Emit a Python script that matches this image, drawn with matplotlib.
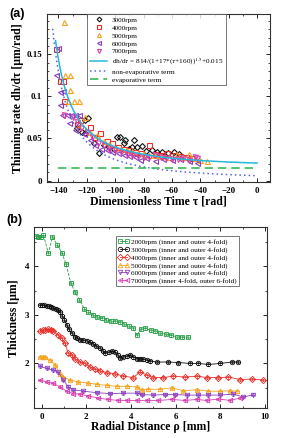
import numpy as np
import matplotlib
matplotlib.use('Agg')
from matplotlib import pyplot as plt
from matplotlib.lines import Line2D
from matplotlib.ticker import MultipleLocator, FuncFormatter

plt.rcParams['font.family'] = ['Liberation Serif', 'DejaVu Serif']
plt.rcParams['mathtext.fontset'] = 'stix'

# ---------------- panel (a) data: thinning rate vs dimensionless time
tau_3000 = [-121, -119, -126.8, -123.3, -121, -115, -111.6, -108, -104, -101, -98.7, -96.4, -94,
            -92.9, -90, -88.2, -87, -84.6, -81.1, -78, -74.1, -70.6, -67, -63, -58.8, -55]
rate_3000 = [0.072, 0.074, 0.062, 0.058, 0.056, 0.045, 0.033, 0.042, 0.040, 0.037, 0.052, 0.052, 0.045,
             0.048, 0.038, 0.040, 0.048, 0.040, 0.041, 0.035, 0.0365, 0.034, 0.034, 0.033, 0.034, 0.031]

tau_4000 = [-141.4, -138.6, -137, -136.3, -126.8, -124.5, -117.5, -115, -110.5, -106, -102, -98, -94,
            -90, -86, -82, -76.5, -72, -68, -63.5, -58, -54, -50, -46]
rate_4000 = [0.156, 0.118, 0.118, 0.094, 0.067, 0.072, 0.064, 0.052, 0.056, 0.047, 0.045, 0.040, 0.038,
             0.036, 0.034, 0.033, 0.0425, 0.031, 0.030, 0.0326, 0.030, 0.029, 0.028, 0.027]

tau_5000 = [-136.2, -135, -131.5, -131.5, -133.2, -129.2, -125.2, -121, -125.7, -118, -112.8, -108, -104,
            -100, -96, -92, -88, -84, -80, -76, -72, -68, -62, -56.5, -52, -48.3, -44, -40, -35.4]
rate_5000 = [0.188, 0.126, 0.126, 0.108, 0.095, 0.095, 0.095, 0.076, 0.064, 0.058, 0.054, 0.047, 0.043,
             0.039, 0.037, 0.036, 0.035, 0.033, 0.032, 0.030, 0.030, 0.029, 0.028, 0.031, 0.028, 0.031,
             0.027, 0.025, 0.023]

tau_6000 = [-140.2, -141.4, -138.6, -136.7, -138.6, -137.4, -134, -131, -128, -125.7, -132.7, -128, -122,
            -118, -114, -110, -106, -102, -98, -94, -90, -86, -82.3, -78, -71.8, -66, -60, -54, -48, -42.4]
rate_6000 = [0.157, 0.125, 0.105, 0.106, 0.090, 0.078, 0.078, 0.078, 0.078, 0.078, 0.068, 0.060, 0.055,
             0.048, 0.042, 0.038, 0.036, 0.034, 0.033, 0.030, 0.029, 0.028, 0.025, 0.027, 0.023, 0.026,
             0.025, 0.026, 0.023, 0.021]

tau_7000 = [-136, -130, -127, -124, -120, -116, -112, -108, -104, -100, -96, -92, -88, -84, -80, -76,
            -72, -68, -64, -60, -56, -52, -48, -44, -42.4]
rate_7000 = [0.078, 0.076, 0.070, 0.062, 0.058, 0.052, 0.045, 0.042, 0.038, 0.036, 0.034, 0.031, 0.030,
             0.029, 0.028, 0.028, 0.030, 0.028, 0.027, 0.026, 0.026, 0.027, 0.025, 0.028, 0.027]

# fit constants as printed in the legend: dh/dt = A/(1+B*(tau+C))^P + E
fit_A, fit_B, fit_C, fit_P, fit_E = 814.0, 17.0, 160.0, 1.5, 0.015
fit_tau = np.linspace(-142, 0, 200)
nonevap_tau = np.linspace(-144, 0, 200)
evap_tau = [-140, 0]

# ---------------- panel (b) data: thickness vs radial distance
rho_2000 = [-0.26, -0.17, -0.05, 0.07, 0.3, 0.48, 0.7, 0.9, 1.09, 1.3, 1.49, 1.69, 1.9, 2.09, 2.3, 2.5,
            2.7, 2.9, 3.1, 3.3, 3.5, 3.7, 3.9, 4.1, 4.26, 4.45, 4.65, 4.9, 5.1, 5.3, 5.55, 5.8, 6.05,
            6.3, 6.55]
h_2000 = [4.62, 4.6, 4.6, 4.65, 4.27, 4.6, 4.44, 4.28, 4.04, 3.66, 3.47, 3.31, 3.13, 3.06, 3.0, 2.96,
          2.93, 2.9, 2.88, 2.87, 2.85, 2.82, 2.78, 2.72, 2.58, 2.7, 2.72, 2.68, 2.66, 2.63, 2.61, 2.58,
          2.55, 2.54, 2.55]

rho_3000 = [-0.08, 0.02, 0.12, 0.22, 0.32, 0.42, 0.52, 0.62, 0.72, 0.82, 0.92, 1.02, 1.12, 1.22, 1.35,
            1.5, 1.6, 1.72, 1.85, 2.02, 2.15, 2.31, 2.45, 2.61, 2.75, 2.84, 3.0, 3.15, 3.29, 3.4, 3.51,
            3.65, 3.81, 3.96, 4.1, 4.26, 4.41, 4.56, 4.7, 4.86, 5.16, 5.68, 6.13, 6.65, 7.02, 7.47, 8.0,
            8.52, 8.82]
h_3000 = [3.2, 3.2, 3.2, 3.19, 3.18, 3.17, 3.15, 3.13, 3.1, 3.05, 2.98, 2.9, 2.8, 2.7, 2.62, 2.55,
          2.52, 2.49, 2.48, 2.47, 2.45, 2.41, 2.36, 2.31, 2.26, 2.21, 2.23, 2.25, 2.24, 2.18, 2.12,
          2.14, 2.15, 2.17, 2.13, 2.1, 2.1, 2.09, 2.07, 2.05, 2.03, 2.03, 2.02, 2.0, 2.0, 1.98, 2.0,
          2.03, 2.03]

rho_4000 = [-0.08, 0.05, 0.15, 0.3, 0.42, 0.52, 0.74, 0.9, 1.04, 1.19, 1.34, 1.49, 1.72, 1.94, 2.17,
            2.39, 2.61, 2.91, 3.29, 3.66, 4.11, 4.41, 4.71, 5.0, 5.45, 5.9, 6.43, 6.95, 7.4, 7.92, 8.37,
            8.9, 9.42, 9.94]
h_4000 = [2.67, 2.68, 2.69, 2.7, 2.69, 2.67, 2.58, 2.52, 2.42, 2.21, 2.17, 2.1, 2.03, 2.0, 1.93,
          1.88, 1.85, 1.81, 1.79, 1.74, 1.71, 1.83, 1.76, 1.71, 1.71, 1.74, 1.72, 1.74, 1.71, 1.71,
          1.72, 1.67, 1.68, 1.66]

rho_5000 = [-0.08, 0.05, 0.15, 0.37, 0.6, 0.82, 0.97, 1.27, 1.64, 2.09, 2.47, 2.91, 3.36, 3.81, 4.26,
            4.48, 4.78, 5.3, 5.83, 6.35, 6.95, 7.47, 8.0, 8.44, 8.74]
h_5000 = [2.14, 2.14, 2.13, 2.07, 1.97, 1.79, 1.72, 1.66, 1.62, 1.6, 1.57, 1.55, 1.53, 1.53, 1.52,
          1.46, 1.47, 1.47, 1.5, 1.44, 1.46, 1.43, 1.43, 1.44, 1.43]

rho_6000 = [-0.08, 0.22, 0.52, 0.74, 0.97, 1.19, 1.42, 1.87, 2.47, 3.06, 3.66, 4.26, 4.48, 5.0, 5.53,
            5.98, 6.5, 7.02, 7.47, 8.0, 8.59, 9.04, 9.49]
h_6000 = [1.94, 1.9, 1.86, 1.82, 1.66, 1.52, 1.46, 1.43, 1.4, 1.38, 1.39, 1.39, 1.36, 1.35, 1.36,
          1.36, 1.35, 1.35, 1.35, 1.35, 1.37, 1.31, 1.36]

rho_7000 = [-0.08, 0.22, 0.52, 0.82, 1.12, 1.42, 1.72, 2.09, 2.54, 2.99, 3.43, 3.81, 4.26, 4.7, 5.23,
            5.83, 6.43, 6.95, 7.4, 7.92, 8.44, 8.89]
h_7000 = [1.66, 1.62, 1.59, 1.52, 1.43, 1.38, 1.37, 1.33, 1.29, 1.26, 1.24, 1.24, 1.24, 1.24, 1.24,
          1.26, 1.24, 1.26, 1.24, 1.27, 1.24, 1.29]

black = '#111111'
red = '#e8302a'
orange = '#f5a21e'
purple = '#8a3fc0'
magenta = '#d83fb0'
green = '#2aa048'
cyan = '#25b8d8'
dotblue = '#5a62d8'
evapgreen = '#39b95a'

fig = plt.figure(figsize=(2.85, 4.38), dpi=100)

# ================= (a)
ax = fig.add_axes([0.165, 0.584, 0.782, 0.384])
mk = dict(mfc='none', ms=3.6, mew=0.8, ls='none')
ax.plot(tau_3000, rate_3000, marker='D', color=black, label='3000rpm', ms=3.0, mfc='none', mew=0.8, ls='none')
ax.plot(tau_4000, rate_4000, marker='s', color=red, label='4000rpm', **mk)
ax.plot(tau_5000, rate_5000, marker='^', color=orange, label='5000rpm', **mk)
ax.plot(tau_6000, rate_6000, marker='<', color=purple, label='6000rpm', **mk)
ax.plot(tau_7000, rate_7000, marker='v', color=magenta, label='7000rpm', **mk)

fit_tau = np.asarray(fit_tau)
fit_line = fit_A / (1 + fit_B * (fit_tau + fit_C)) ** fit_P + fit_E
nonevap_tau = np.asarray(nonevap_tau)
nonevap_line = fit_A / (1 + fit_B * (nonevap_tau + fit_C)) ** fit_P
ax.plot(fit_tau, fit_line, color=cyan, lw=1.1,
        label=r'dh/d$\tau$ = 814/(1+17*($\tau$+160))$^{1.5}$+0.015')
ax.plot(nonevap_tau, nonevap_line, color=dotblue, lw=1.1, ls=(0, (1, 2)), label='non-evaporative term')
ax.plot(evap_tau, [fit_E, fit_E], color=evapgreen, lw=1.2, ls=(0, (5, 3)), label='evaporative term')

ax.set_xlim(-148, 9)
ax.set_ylim(-0.002, 0.198)
ax.xaxis.set_major_locator(MultipleLocator(20))
ax.xaxis.set_minor_locator(MultipleLocator(10))
ax.yaxis.set_major_locator(MultipleLocator(0.05))
ax.yaxis.set_minor_locator(MultipleLocator(0.01))
ax.yaxis.set_major_formatter(FuncFormatter(lambda v, p: '%g' % round(v, 3)))
ax.set_xlabel('Dimensionless Time τ [rad]', fontsize=8.5, fontweight='bold', labelpad=0)
ax.set_ylabel('Thinning rate dh/dτ [μm/rad]', fontsize=8.5, fontweight='bold', labelpad=2)
leg = ax.legend(loc='upper left', bbox_to_anchor=(0.18, 1.0), fontsize=5.2, frameon=True, fancybox=False,
                edgecolor='#555555', borderpad=0.4, labelspacing=0.25, handlelength=2.4,
                handletextpad=0.6, borderaxespad=0, numpoints=1, markerscale=0.8)
leg.get_frame().set_linewidth(0.7)
ax.text(-0.17, 1.0, '(a)', transform=ax.transAxes, fontsize=9, fontweight='bold',
        family='Liberation Sans', ha='left', va='center')

# ================= (b)
bx = fig.add_axes([0.119, 0.068, 0.818, 0.413])
eb = dict(mfc='none', ms=3.2, mew=0.6, lw=0.6, elinewidth=0.4, capsize=1.0, capthick=0.4)
series_b = [
    (rho_2000, h_2000, 's', '--', green, '2000rpm (inner and outer 4-fold)'),
    (rho_3000, h_3000, 'o', '-', black, '3000rpm (inner and outer 4-fold)'),
    (rho_4000, h_4000, 'D', '-', red, '4000rpm (inner and outer 4-fold)'),
    (rho_5000, h_5000, '^', '-', orange, '5000rpm (inner and outer 4-fold)'),
    (rho_6000, h_6000, 'v', '-', purple, '6000rpm (inner and outer 4-fold)'),
    (rho_7000, h_7000, '<', '-', magenta, '7000rpm (inner 4-fold, outer 6-fold)'),
]
handles = []
for x, y, m, ls, c, lab in series_b:
    bx.errorbar(x, y, xerr=0.09, yerr=0.03, fmt=m, ls=ls, color=c, **eb)
    handles.append(Line2D([], [], marker=m, ls='-', lw=0.6, color=c, mfc='none', ms=3.2, mew=0.6, label=lab))

bx.set_xlim(-0.35, 10.1)
bx.set_ylim(1.08, 4.8)
bx.xaxis.set_major_locator(MultipleLocator(2))
bx.xaxis.set_minor_locator(MultipleLocator(1))
bx.yaxis.set_major_locator(MultipleLocator(1))
bx.yaxis.set_minor_locator(MultipleLocator(0.5))
bx.set_xlabel('Radial Distance ρ [mm]', fontsize=8.5, fontweight='bold', labelpad=0)
bx.set_ylabel('Thickness [μm]', fontsize=8.5, fontweight='bold', labelpad=3)
leg2 = bx.legend(handles=handles, loc='upper left', bbox_to_anchor=(0.35, 0.95), fontsize=5.2, frameon=True,
                 fancybox=False, edgecolor='#555555', borderpad=0.3, labelspacing=0.2, handlelength=1.6,
                 handletextpad=0.3, borderaxespad=0, numpoints=2)
leg2.get_frame().set_linewidth(0.7)
bx.text(-0.12, 1.04, '(b)', transform=bx.transAxes, fontsize=9, fontweight='bold',
        family='Liberation Sans', ha='left', va='center')

for a in (ax, bx):
    a.tick_params(which='both', direction='in', top=True, right=True, labelsize=6.5)
    a.tick_params(which='major', length=3, width=0.6)
    a.tick_params(which='minor', length=1.5, width=0.5)
    for lab in a.get_xticklabels() + a.get_yticklabels():
        lab.set_fontweight('bold')
    for s in a.spines.values():
        s.set_linewidth(0.8)
        s.set_color('#333333')

fig.savefig('out.png', dpi=100)
